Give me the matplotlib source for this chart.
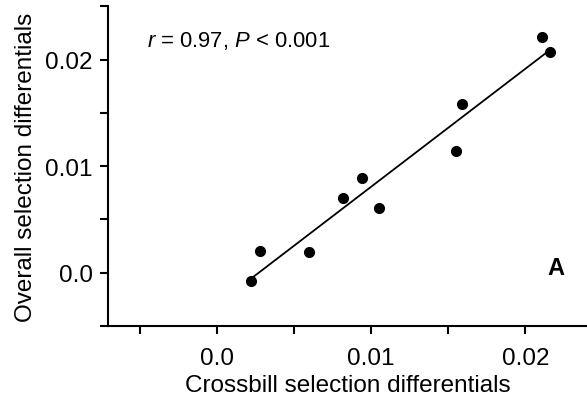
import numpy as np
import matplotlib
matplotlib.use("Agg")
import matplotlib.pyplot as plt
from matplotlib.ticker import MultipleLocator

plt.rcParams["font.family"] = ["Liberation Sans", "DejaVu Sans"]
plt.rcParams["mathtext.fontset"] = "custom"
plt.rcParams["mathtext.rm"] = "Liberation Sans"
plt.rcParams["mathtext.it"] = "Liberation Sans:italic"

# crossbill vs overall selection differentials
crossbill = [0.0022, 0.0028, 0.0060, 0.0082, 0.0094, 0.0105, 0.0155, 0.0159, 0.0211, 0.0216]
overall = [-0.0008, 0.0020, 0.0019, 0.0070, 0.0089, 0.0061, 0.0114, 0.0158, 0.0221, 0.0207]

fig = plt.figure(figsize=(5.87, 4.02), dpi=100)
ax = fig.add_axes([0.184, 0.187, 0.816, 0.795])

x = np.array(crossbill)
y = np.array(overall)
slope, icpt = np.polyfit(x, y, 1)
xl = np.array([x.min(), x.max()])
ax.plot(xl, slope * xl + icpt, color="black", lw=1.3)
ax.plot(x, y, "o", color="black", ms=7, mec="black")

ax.set_xlim(-0.00705, 0.024)
ax.set_ylim(-0.005, 0.025)
ax.xaxis.set_minor_locator(MultipleLocator(0.005))
ax.yaxis.set_minor_locator(MultipleLocator(0.005))
ax.set_xticks([0.0, 0.01, 0.02])
ax.set_xticklabels(["0.0", "0.01", "0.02"])
ax.set_yticks([0.0, 0.01, 0.02])
ax.set_yticklabels(["0.0", "0.01", "0.02"])
ax.tick_params(which="both", length=6, width=1.5, direction="out", labelsize=17.5, pad=5)
ax.tick_params(axis="x", which="both", pad=9)

ax.spines["top"].set_visible(False)
ax.spines["right"].set_visible(False)
for s in ("left", "bottom"):
    ax.spines[s].set_linewidth(1.5)

ax.set_xlabel("Crossbill selection differentials", fontsize=17.5, labelpad=4)
ax.set_ylabel("Overall selection differentials", fontsize=17.5, labelpad=6)

ax.text(-0.0045, 0.0218, "$r$ = 0.97, $P$ < 0.001", fontsize=15.8, va="center")
ax.text(0.0220, 0.0005, "A", fontsize=17, fontweight="bold", va="center", ha="center")

fig.savefig("out.png", dpi=100)
